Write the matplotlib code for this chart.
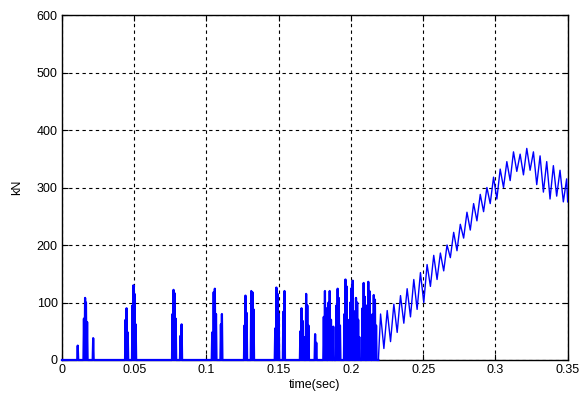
import numpy as np
import matplotlib
matplotlib.use("Agg")
import matplotlib.pyplot as plt

# contact force pulses before the load settles (time in s, force in kN)
spike_t = [
    0.0109,
    0.0152, 0.0160, 0.0166, 0.0174,
    0.0216,
    0.0440, 0.0447, 0.0455,
    0.0488, 0.0495, 0.0502, 0.0510,
    0.0765, 0.0772, 0.0780, 0.0787,
    0.0820, 0.0828,
    0.1040, 0.1050, 0.1058, 0.1066,
    0.1100, 0.1107,
    0.1263, 0.1270, 0.1278,
    0.1310, 0.1318, 0.1326,
    0.1476, 0.1484, 0.1492, 0.1500,
    0.1532, 0.1540,
    0.1650, 0.1658, 0.1666, 0.1674,
    0.1690, 0.1698, 0.1706,
    0.1752, 0.1760,
    0.1812, 0.1820, 0.1828,
    0.1845, 0.1853, 0.1862,
    0.1878,
    0.1900, 0.1908, 0.1916, 0.1924,
    0.1955, 0.1962, 0.1970, 0.1978,
    0.1996, 0.2004, 0.2012, 0.2020,
    0.2035, 0.2043, 0.2050, 0.2058,
    0.2080, 0.2088, 0.2096,
    0.2112, 0.2120, 0.2128, 0.2136,
    0.2150, 0.2158, 0.2166, 0.2174,
]
spike_kn = [
    25,
    72, 108, 100, 66,
    38,
    70, 90, 48,
    95, 130, 115, 62,
    80, 122, 116, 72,
    42, 62,
    48, 118, 124, 80,
    62, 80,
    60, 112, 82,
    120, 118, 88,
    55, 126, 115, 80,
    84, 120,
    50, 90, 68, 40,
    115, 95, 60,
    45, 30,
    75, 120, 90,
    100, 120, 70,
    58,
    95, 124, 108, 60,
    80, 140, 128, 70,
    100, 125, 138, 85,
    108, 100, 70, 40,
    90, 134, 110,
    95, 136, 120, 75,
    80, 113, 105, 60,
]

# steady oscillating part: peaks and troughs
peak_t = [0.2205, 0.2251, 0.2297, 0.2343, 0.2389, 0.2435, 0.2481, 0.2527,
          0.2573, 0.2619, 0.2665, 0.2711, 0.2757, 0.2803, 0.2849, 0.2895,
          0.2941, 0.2987, 0.3033, 0.3079, 0.3125, 0.3171, 0.3217, 0.3263,
          0.3309, 0.3355, 0.3401, 0.3447, 0.3493]
peak_kn = [80, 86, 97, 112, 124, 140, 152, 166, 182, 186, 200, 222, 236, 257,
           272, 288, 300, 318, 332, 345, 362, 358, 368, 362, 355, 345, 338,
           330, 315]
trough_t = [0.2228, 0.2274, 0.2320, 0.2366, 0.2412, 0.2458, 0.2504, 0.2550,
            0.2596, 0.2642, 0.2688, 0.2734, 0.2780, 0.2826, 0.2872, 0.2918,
            0.2964, 0.3010, 0.3056, 0.3102, 0.3148, 0.3194, 0.3240, 0.3286,
            0.3332, 0.3378, 0.3424, 0.3470, 0.3500]
trough_kn = [20, 32, 48, 64, 75, 88, 100, 128, 140, 155, 178, 190, 212, 226,
             242, 258, 272, 280, 300, 312, 328, 322, 330, 305, 292, 280, 285,
             275, 275]

x_ticks = [0, 0.05, 0.1, 0.15, 0.2, 0.25, 0.3, 0.35]
x_labels = ["0", "0.05", "0.1", "0.15", "0.2", "0.25", "0.3", "0.35"]
y_ticks = [0, 100, 200, 300, 400, 500, 600]

# pulse train: baseline with narrow pulses
half_w = 0.00035
t1 = [0.0]
f1 = [0.0]
for st, sk in zip(spike_t, spike_kn):
    t1 += [st - half_w, st, st + half_w]
    f1 += [0.0, sk, 0.0]
t1.append(0.2190)
f1.append(0.0)

# oscillation joins on from the last baseline point
t2 = [0.2190]
f2 = [0.0]
for pt, pk, tt, tk in zip(peak_t, peak_kn, trough_t, trough_kn):
    t2 += [pt, tt]
    f2 += [pk, tk]

fig = plt.figure(figsize=(5.83, 3.97), dpi=100, facecolor="white")
ax = fig.add_axes([0.1063, 0.0932, 0.8674, 0.869])

ax.plot(t1, f1, color="#0000ff", linewidth=1.6, clip_on=False, zorder=3)
ax.plot(t2, f2, color="#0000ff", linewidth=1.0, zorder=3)

ax.set_xlim(0, 0.35)
ax.set_ylim(0, 600)
ax.set_xticks(x_ticks)
ax.set_xticklabels(x_labels)
ax.set_yticks(y_ticks)
ax.grid(True, color="black", linestyle=(0, (3, 3)), linewidth=0.8)
ax.tick_params(direction="in", top=True, right=True, length=4,
               labelsize=9, colors="black", pad=3)
for lbl in ax.get_xticklabels() + ax.get_yticklabels():
    lbl.set_family("Liberation Sans")
for sp in ax.spines.values():
    sp.set_color("black")
    sp.set_linewidth(1.0)

ax.set_xlabel("time(sec)", fontsize=9, family="Liberation Sans", labelpad=2)
ax.set_ylabel("kN", fontsize=9, family="Liberation Sans", labelpad=10)

fig.savefig("out.png", dpi=100, facecolor="white")
